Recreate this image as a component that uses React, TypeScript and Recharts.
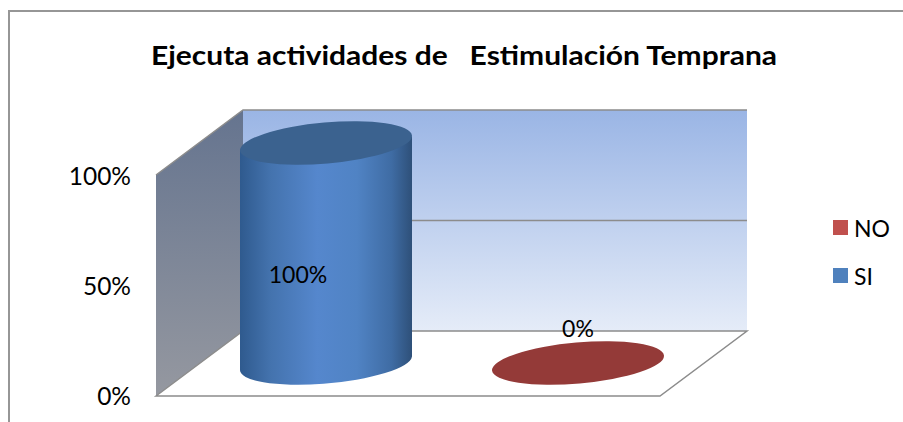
import React from "react";
import { BarChart, Bar, XAxis, YAxis, LabelList } from "recharts";

const categories = ["SI", "NO"];
const siValues = [1, null];
const noValues = [null, 0];
const yTicks = [0, 0.5, 1];
const legendItems = [
  { name: "NO", color: "#c0504d" },
  { name: "SI", color: "#4f81bd" },
];
const titleText = "Ejecuta actividades de\u00a0\u00a0 Estimulación Temprana";

const data = categories.map((c, i) => ({ cat: c, SI: siValues[i], NO: noValues[i] }));

const W = 903;
const H = 422;
const PLOT = { left: 156, right: 660, top: 176, bottom: 396 };
const DX = 87;
const DY = 65;
const BAR_DX = 44;
const BAR_DY = -33;
const FONT = "Lato, Carlito, 'Open Sans', sans-serif";

function cylinder(key: string, fillId: string, topFill: string) {
  return (props: any) => {
    const { x, y, width, height, payload } = props;
    if (!payload || payload[key] === null || payload[key] === undefined) return null;
    const cx = x + width / 2 + BAR_DX;
    const a = width / 2 + 0.3;
    const b = 20.5;
    const tilt = 6.5;
    const top = y + BAR_DY;
    const bot = y + height + BAR_DY;
    const L = cx - width / 2;
    const R = cx + width / 2;
    const body = `M${L},${top + tilt} L${L},${bot + tilt} A${a},${b} -5 0 0 ${R},${bot - tilt} L${R},${top - tilt} Z`;
    return (
      <g>
        {height > 0.5 ? <path d={body} fill={`url(#${fillId})`} /> : null}
        <ellipse cx={cx} cy={top} rx={a} ry={b} fill={topFill} transform={`rotate(-5 ${cx} ${top})`} />
      </g>
    );
  };
}

function barLabel(text: string, dx: number, dy: number) {
  return (props: any) => {
    const { x, y, width, height, value } = props;
    if (value === null || value === undefined) return null;
    return (
      <text
        x={x + width / 2 + dx}
        y={y + height / 2 + dy}
        textAnchor="middle"
        dominantBaseline="central"
        fontFamily={FONT}
        fontSize={23}
        fill="#000"
      >
        {text}
      </text>
    );
  };
}

function Legend2() {
  return (
    <g>
      {legendItems.map((it, i) => (
        <g key={it.name}>
          <rect x={833} y={220 + i * 48} width={15} height={15} fill={it.color} />
          <text x={854} y={227.5 + i * 48} dominantBaseline="central" fontFamily={FONT} fontSize={23} fill="#000">
            {it.name}
          </text>
        </g>
      ))}
    </g>
  );
}

function Walls() {
  const { left: l, right: r, top: t, bottom: b } = PLOT;
  const backL = l + DX;
  const backR = r + DX;
  const backT = t - DY - 1;
  const backB = b - DY;
  const backM = (backT + backB) / 2;
  const edge = "#8c8c8c";
  return (
    <g>
      <polygon points={`${backL},${backT} ${backR},${backT} ${backR},${backB} ${backL},${backB}`} fill="url(#wallBack)" />
      <polygon points={`${l},${t - 1} ${backL},${backT} ${backL},${backB} ${l},${b}`} fill="url(#wallSide)" />
      <polyline points={`${l},${t - 1} ${backL},${backT} ${backR},${backT}`} fill="none" stroke={edge} strokeWidth={1.5} />
      <line x1={backL} y1={backM} x2={backR} y2={backM} stroke={edge} strokeWidth={1.5} />
      <polygon points={`${l},${b} ${backL},${backB} ${backR},${backB} ${r},${b}`} fill="#fff" stroke={edge} strokeWidth={1.5} />
    </g>
  );
}

export default function App() {
  return (
    <div style={{ position: "absolute", left: 0, top: 0, width: W, height: H }}>
      <BarChart
        width={W}
        height={H}
        data={data}
        margin={{ left: 96, right: W - PLOT.right, top: PLOT.top, bottom: H - PLOT.bottom }}
        barCategoryGap={40}
        style={{ background: "#fff" }}
      >
        <defs>
          <linearGradient id="wallBack" x1="0" y1="0" x2="0" y2="1">
            <stop offset="0" stopColor="#9ab5e5" />
            <stop offset="1" stopColor="#e5ecf8" />
          </linearGradient>
          <linearGradient id="wallSide" x1="0" y1="0" x2="0" y2="1">
            <stop offset="0" stopColor="#65748f" />
            <stop offset="1" stopColor="#9598a0" />
          </linearGradient>
          <linearGradient id="cylBlue" x1="0" y1="0" x2="1" y2="0">
            <stop offset="0" stopColor="#2f5a8e" />
            <stop offset="0.18" stopColor="#4473ae" />
            <stop offset="0.45" stopColor="#5587cd" />
            <stop offset="0.68" stopColor="#5083c4" />
            <stop offset="0.88" stopColor="#3f6ca4" />
            <stop offset="1" stopColor="#2e5079" />
          </linearGradient>
        </defs>
        <polyline points={`${W},11 9,11 9,${H}`} fill="none" stroke="#969696" strokeWidth={2} />
        <text
          x={151}
          y={54}
          textAnchor="start"
          dominantBaseline="central"
          fontFamily={FONT}
          fontWeight={700}
          fontSize={27}
          textLength={626}
          lengthAdjust="spacingAndGlyphs"
          fill="#000"
        >
          {titleText}
        </text>
        <Walls />
        <XAxis dataKey="cat" hide />
        <YAxis
          width={60}
          domain={[0, 1]}
          ticks={yTicks}
          axisLine={false}
          tickLine={false}
          tickMargin={19}
          tickFormatter={(v: number) => `${Math.round(v * 100)}%`}
          tick={{ fontFamily: FONT, fontSize: 24.5, fill: "#000" }}
        />
        <Bar dataKey="SI" stackId="s" isAnimationActive={false} shape={cylinder("SI", "cylBlue", "#3b628f")}>
          <LabelList dataKey="SI" content={barLabel("100%", 16, -12)} />
        </Bar>
        <Bar dataKey="NO" stackId="s" isAnimationActive={false} shape={cylinder("NO", "cylBlue", "#943a38")}>
          <LabelList dataKey="NO" content={barLabel("0%", 44, -68)} />
        </Bar>
        <Legend2 />
      </BarChart>
    </div>
  );
}
